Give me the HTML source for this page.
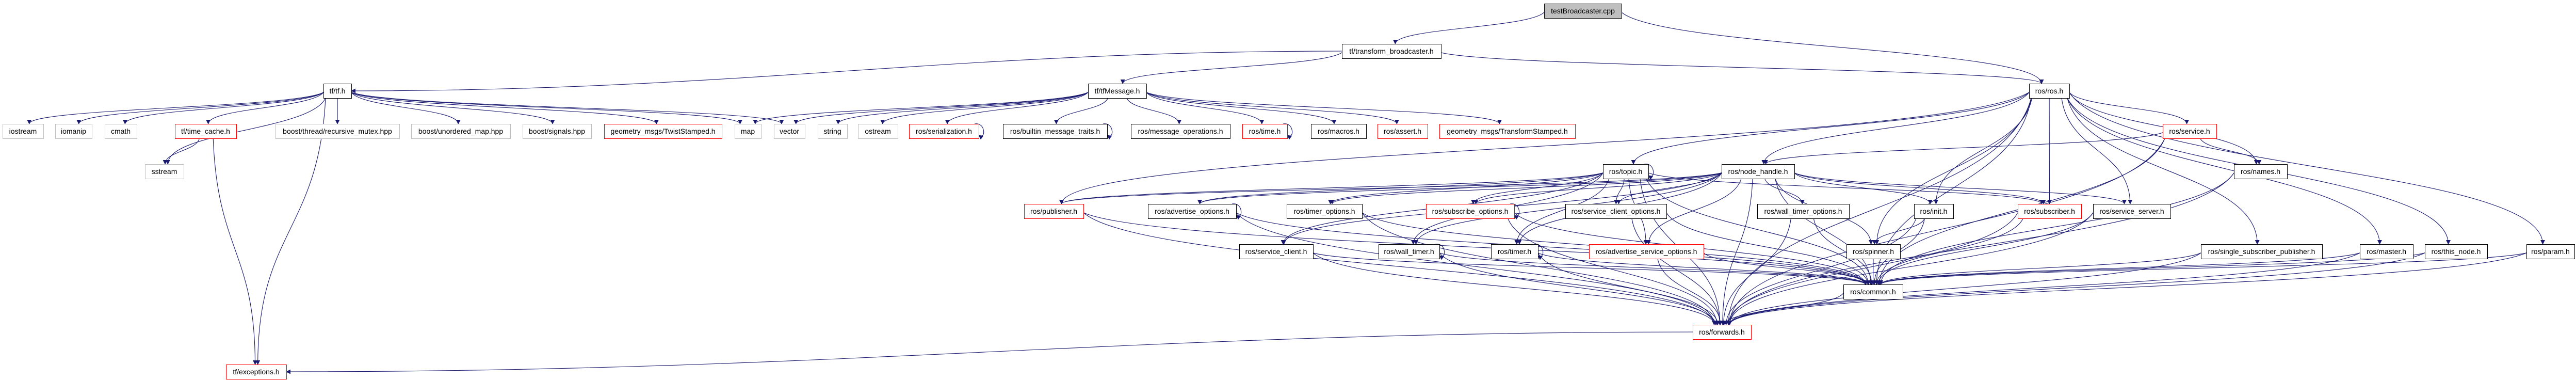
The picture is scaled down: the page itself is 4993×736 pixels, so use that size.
<!DOCTYPE html>
<html><head><meta charset="utf-8">
<style>
html,body{margin:0;padding:0;background:#fff;width:4993px;height:736px;overflow:hidden}
svg{display:block}
text{font-family:"Liberation Sans",sans-serif;font-size:14px;fill:#000}
</style></head>
<body>
<svg id="g" width="4993" height="736" xmlns="http://www.w3.org/2000/svg">
<defs><marker id="a" viewBox="0 0 10 10" refX="9" refY="5" markerWidth="9" markerHeight="9" markerUnits="userSpaceOnUse" orient="auto"><path d="M0,0 L10,5 L0,10 z" fill="#191970"/></marker></defs>
<g id="E" fill="none" stroke="#191970" stroke-width="1.1"></g>
<g id="N"></g>
</svg>
<script>
var R=[7,85,162,240,318,395,473,551,629,706];
var n={
test:[2993,3143,0,'testBroadcaster.cpp','g'],
tb:[2601,2793,1,'tf/transform_broadcaster.h','b'],
tf:[627,681,2,'tf/tf.h','b'],
msg:[2109,2222,2,'tf/tfMessage.h','b'],
ros:[3933,4011,2,'ros/ros.h','b'],
iostream:[5,84,3,'iostream','s'],
iomanip:[107,178,3,'iomanip','s'],
cmath:[203,265,3,'cmath','s'],
tc:[339,458,3,'tf/time_cache.h','r'],
rm:[534,774,3,'boost/thread/recursive_mutex.hpp','s'],
um:[797,989,3,'boost/unordered_map.hpp','s'],
sig:[1013,1146,3,'boost/signals.hpp','s'],
twist:[1171,1399,3,'geometry_msgs/TwistStamped.h','r'],
map:[1424,1475,3,'map','s'],
vector:[1500,1560,3,'vector','s'],
string:[1585,1642,3,'string','s'],
ostream:[1663,1740,3,'ostream','s'],
ser:[1762,1897,3,'ros/serialization.h','r'],
bmt:[1944,2146,3,'ros/builtin_message_traits.h','b'],
mo:[2192,2384,3,'ros/message_operations.h','b'],
time:[2408,2495,3,'ros/time.h','r'],
mac:[2541,2648,3,'ros/macros.h','b'],
ass:[2670,2767,3,'ros/assert.h','r'],
ts:[2790,3053,3,'geometry_msgs/TransformStamped.h','r'],
service:[4192,4296,3,'ros/service.h','r'],
sstream:[281,356,4,'sstream','s'],
topic:[3107,3195,4,'ros/topic.h','b'],
nh:[3337,3478,4,'ros/node_handle.h','b'],
names:[4330,4433,4,'ros/names.h','b'],
pub:[1985,2100,5,'ros/publisher.h','r'],
ao:[2225,2396,5,'ros/advertise_options.h','b'],
to:[2494,2640,5,'ros/timer_options.h','b'],
so:[2764,2935,5,'ros/subscribe_options.h','r'],
sco:[3034,3230,5,'ros/service_client_options.h','b'],
wto:[3406,3584,5,'ros/wall_timer_options.h','b'],
init:[3710,3786,5,'ros/init.h','b'],
sub:[3911,4034,5,'ros/subscriber.h','r'],
ss:[4057,4207,5,'ros/service_server.h','b'],
sc:[2402,2545,6,'ros/service_client.h','b'],
wt:[2672,2790,6,'ros/wall_timer.h','b'],
timer:[2890,2981,6,'ros/timer.h','b'],
aso:[3080,3302,6,'ros/advertise_service_options.h','r'],
spin:[3579,3683,6,'ros/spinner.h','b'],
ssp:[4266,4501,6,'ros/single_subscriber_publisher.h','b'],
master:[4574,4677,6,'ros/master.h','b'],
tn:[4700,4821,6,'ros/this_node.h','b'],
param:[4897,4990,6,'ros/param.h','b'],
common:[3573,3688,7,'ros/common.h','b'],
fw:[3281,3394,8,'ros/forwards.h','r'],
exc:[438,555,9,'tf/exceptions.h','r']
};
var H=28;
var e=[['test','tb'],['test','ros'],['tb','tf'],['tb','msg'],['tb','ros'],
['tf','iostream'],['tf','iomanip'],['tf','cmath'],['tf','tc'],['tf','rm'],['tf','um'],['tf','sig'],['tf','twist'],['tf','map'],['tf','vector'],['tf','sstream'],['tf','exc'],
['tc','sstream'],['tc','exc'],
['msg','map'],['msg','vector'],['msg','string'],['msg','ostream'],['msg','ser'],['msg','bmt'],['msg','mo'],['msg','time'],['msg','mac'],['msg','ass'],['msg','ts'],
['ros','topic'],['ros','nh'],['ros','service'],['ros','names'],['ros','init'],['ros','sub'],['ros','ss'],['ros','common'],['ros','ssp'],['ros','master'],['ros','tn'],['ros','param'],['ros','pub'],['ros','spin'],
['service','nh'],['service','names'],['service','common'],['service','fw'],['names','common'],['names','fw'],
['topic','pub'],['topic','ao'],['topic','so'],['topic','sco'],['topic','sc'],['topic','wt'],['topic','timer'],['topic','common'],['topic','fw'],['topic','sub'],['topic','aso'],['topic','to'],
['nh','pub'],['nh','ao'],['nh','to'],['nh','so'],['nh','sco'],['nh','sc'],['nh','wt'],['nh','timer'],['nh','aso'],['nh','wto'],['nh','init'],['nh','sub'],['nh','ss'],['nh','spin'],['nh','common'],['nh','fw'],
['pub','common'],['pub','fw'],['ao','common'],['ao','fw'],['to','common'],['to','fw'],['so','common'],['so','fw'],['sco','common'],['sco','fw'],['wto','common'],['wto','fw'],
['init','common'],['init','fw'],['init','spin'],['sub','common'],['sub','fw'],['ss','common'],['ss','fw'],
['sc','common'],['sc','fw'],['wt','common'],['wt','fw'],['timer','common'],['timer','fw'],['aso','common'],['aso','fw'],['spin','common'],
['ssp','common'],['ssp','fw'],['master','common'],['master','fw'],['tn','common'],['tn','fw'],['param','common'],['param','fw'],
['common','fw'],['fw','exc'],['ros','fw']];
var loops=['ser','bmt','time','ao','so','wt','timer','topic'];
var E=document.getElementById('E'),N=document.getElementById('N'),NS='http://www.w3.org/2000/svg';
function mk(t,a,p){var el=document.createElementNS(NS,t);for(var k in a)el.setAttribute(k,a[k]);p.appendChild(el);return el;}
e.forEach(function(p){var s=n[p[0]],t=n[p[1]];
 var sx=(s[0]+s[1])/2,sy=R[s[2]]+H,tx=(t[0]+t[1])/2,ty=R[t[2]];
 var dy=ty-sy,dx=tx-sx,d;
 if(Math.abs(dx)>30*Math.max(dy,1)){
  sy=R[s[2]]+H/2;ty=R[t[2]]+H/2;
  if(tx<sx){sx=s[0];tx=t[1];}else{sx=s[1];tx=t[0];}
  d='M'+sx+','+sy+' C'+(sx+(tx-sx)*0.4)+','+sy+' '+(sx+(tx-sx)*0.6)+','+ty+' '+tx+','+ty;
 } else {
  if(Math.abs(dx)>3*dy){sy=R[s[2]]+H*0.6; sx=dx<0?s[0]:s[1];}
  else {sx=Math.max(s[0]+4,Math.min(s[1]-4,sx+dx*0.15)); }
  var ddy=ty-sy;
  tx=tx-Math.max(-15,Math.min(15,dx*0.02));
  d='M'+sx+','+sy+' C'+(sx+(tx-sx)*0.1)+','+(sy+ddy*0.5)+' '+tx+','+(ty-ddy*0.5)+' '+tx+','+ty;
 }
 mk('path',{d:d,'marker-end':'url(#a)'},E);
});
loops.forEach(function(k){var s=n[k],y=R[s[2]];
 mk('path',{d:'M'+(s[1]-8)+','+y+' C'+(s[1]+14)+','+(y-4)+' '+(s[1]+14)+','+(y+H+4)+' '+s[1]+','+(y+H-6),'marker-end':'url(#a)'},E);});
for(var k in n){var s=n[k],y=R[s[2]],w=s[1]-s[0];
 var st=s[4]=='r'?'#ff0000':(s[4]=='s'?'#bfbfbf':'#000');
 var fill=s[4]=='g'?'#bfbfbf':'#fff';
 mk('rect',{x:s[0]+0.5,y:y+0.5,width:w,height:H,fill:fill,stroke:s[4]=='g'?'#000':st,'stroke-width':1},N);
 var t=mk('text',{x:(s[0]+s[1])/2,y:y+19,'text-anchor':'middle'},N);t.textContent=s[3];
}
</script>
</body></html>
